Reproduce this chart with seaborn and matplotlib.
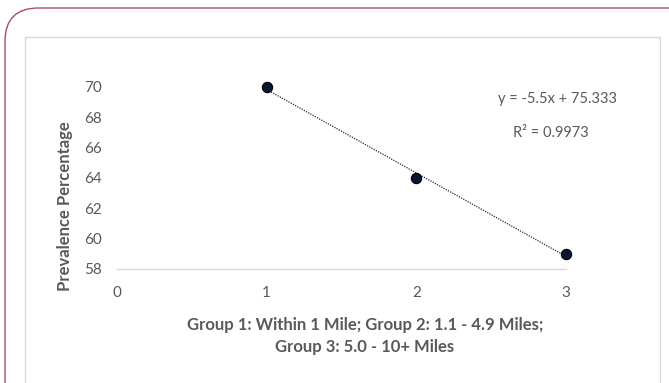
import numpy as np
import pandas as pd
import matplotlib.pyplot as plt
import seaborn as sns
from matplotlib.patches import FancyBboxPatch, Rectangle

# data
groups = [1, 2, 3]
prevalence = [70, 64, 59]
x_ticks = [0, 1, 2, 3]
y_ticks = [58, 60, 62, 64, 66, 68, 70]

df = pd.DataFrame({'group': groups, 'prevalence': prevalence})

# trend line fit
slope, intercept = np.polyfit(df['group'], df['prevalence'], 1)
pred = slope * df['group'] + intercept
r2 = 1 - ((df['prevalence'] - pred) ** 2).sum() / ((df['prevalence'] - df['prevalence'].mean()) ** 2).sum()

sns.set_style("white")
plt.rcParams['font.family'] = ['Lato', 'DejaVu Sans']

grey = '#595959'
W, H = 669, 383
fig = plt.figure(figsize=(W / 100, H / 100), dpi=100)

# outer frame and inner chart box
fig.patches.append(FancyBboxPatch((5 / W, -0.2), 1.2, 1 - 8 / H + 0.2,
                                  boxstyle='round,pad=0,rounding_size=0.05',
                                  transform=fig.transFigure, fill=False,
                                  edgecolor='#a64a7a', linewidth=1.0,
                                  mutation_aspect=W / H))
fig.patches.append(Rectangle((25 / W, -0.1), (660 - 25) / W, 1 - 37 / H + 0.1,
                             transform=fig.transFigure, fill=False,
                             edgecolor='#d9d9d9', linewidth=1.0))

ax = fig.add_axes([117 / W, 1 - 269 / H, (566 - 117) / W, (269 - 87) / H])
ax.set_facecolor('none')

sns.regplot(data=df, x='group', y='prevalence', ax=ax, ci=None,
            scatter_kws={'s': 55, 'color': '#0a1530', 'edgecolors': 'black',
                         'linewidths': 0.8, 'alpha': 1, 'clip_on': False,
                         'zorder': 3},
            line_kws={'color': '#1f2a44', 'linestyle': (0, (1, 1)),
                      'linewidth': 0.9})

ax.set_xlim(0, 3)
ax.set_ylim(58, 70)
ax.set_xticks(x_ticks)
ax.set_yticks(y_ticks)
ax.tick_params(axis='both', length=0, colors=grey, labelsize=11)
ax.tick_params(axis='x', pad=12)
ax.tick_params(axis='y', pad=11)
for s in ['top', 'right', 'left']:
    ax.spines[s].set_visible(False)
ax.spines['bottom'].set_color('#d9d9d9')
ax.spines['bottom'].set_linewidth(1.0)
ax.set_xlabel('')
ax.set_ylabel('Prevalence Percentage', fontsize=12, fontweight='bold',
              color=grey)
ax.yaxis.set_label_coords((73 - 117) / (566 - 117), (269 - 206) / (269 - 87))

fig.text(365 / W, 1 - 336 / H,
         'Group 1: Within 1 Mile; Group 2: 1.1 - 4.9 Miles;\nGroup 3: 5.0 - 10+ Miles',
         ha='center', va='center', fontsize=12, fontweight='bold',
         color=grey, linespacing=1.5)

fig.text(558 / W, 1 - 99 / H, f'y = {slope:.1f}x + {intercept:.3f}'.replace('+ -', '- '),
         ha='center', va='center', fontsize=10.5, color=grey)
fig.text(551 / W, 1 - 133 / H, f'R² = {r2:.4f}',
         ha='center', va='center', fontsize=10.5, color=grey)

plt.savefig('out.png', dpi=100)
